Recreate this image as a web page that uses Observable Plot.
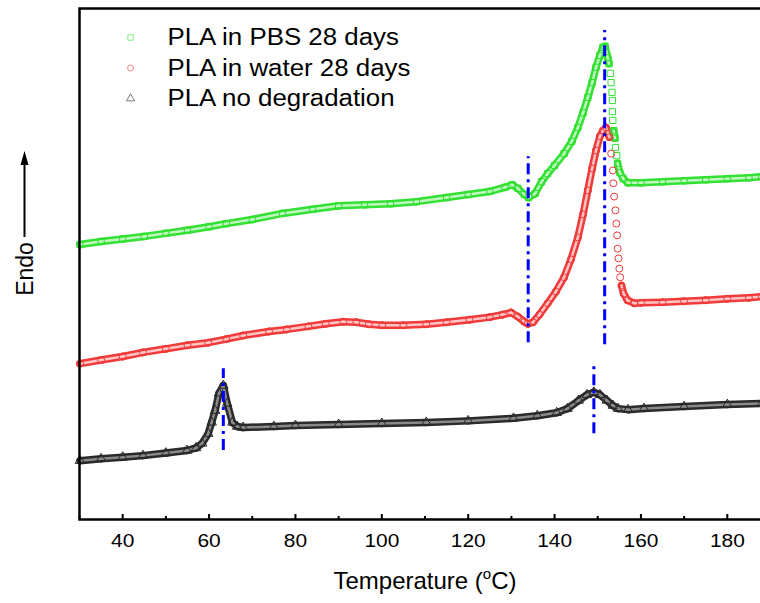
<!DOCTYPE html>
<html>
<head>
<meta charset="utf-8">
<script src="https://cdn.jsdelivr.net/npm/d3@7"></script>
<script src="https://cdn.jsdelivr.net/npm/@observablehq/plot@0.6"></script>
<style>
  html, body { margin: 0; padding: 0; background: #fff; overflow: hidden; }
  #chart { width: 760px; height: 603px; overflow: hidden; position: relative; }
  #chart svg { font-family: Arial, "Liberation Sans", sans-serif; max-width: none !important; }
</style>
</head>
<body>
<div id="chart"></div>
<script>
// DSC heating scans of PLA (heat flow in arbitrary units, endotherm up)
const seriesNames = ["PLA in PBS 28 days", "PLA in water 28 days", "PLA no degradation"];

const pbsT = [30.1, 35, 40, 45, 50, 55, 60, 64, 70, 77, 84, 90, 96, 102, 108, 115, 120, 125, 128.5, 130.2,
  131.5, 133, 134, 135.5, 137, 138.4, 140, 142.2, 144, 145.4, 146.6, 147.7, 148.7, 149.6, 150.5, 151.2, 151.7, 152.3, 152.6, 152.9,
  153.1, 153.3, 153.4, 153.4, 153.5, 153.7, 154.0, 154.1, 154.4, 154.6, 155.1, 155.9, 157.0, 160, 165, 170, 175, 180, 185, 188];
const pbsHF = [53.8, 54.4, 54.9, 55.4, 56.0, 56.6, 57.3, 57.9, 58.7, 59.9, 60.7, 61.4, 61.6, 61.8, 62.2, 63.0, 63.6, 64.2, 65.0, 65.5,
  64.8, 63.6, 63.0, 63.8, 66.1, 67.7, 69.3, 71.6, 74.0, 76.7, 79.6, 82.6, 85.5, 88.5, 90.8, 92.4, 92.6, 90.4, 89.2, 87.3,
  85.5, 83.6, 82.0, 79.8, 78.1, 76.1, 74.6, 72.8, 71.2, 69.7, 67.9, 66.7, 65.9, 65.9, 66.1, 66.3, 66.5, 66.7, 66.9, 67.1];

const waterT = [30.1, 35, 40, 44.7, 50, 55, 59.8, 64, 67.9, 73.9, 78, 83, 87, 91.1, 94.1, 97, 100.1, 105, 110.3, 115,
  120.3, 125, 128, 129.9, 131.5, 133, 133.8, 135, 136.5, 138.4, 140.3, 142.2, 143.8, 145.4, 146.6, 147.7, 148.7, 149.6, 150.5, 151.2,
  151.9, 152.7, 153.1, 153.5, 153.6, 153.8, 154.1, 154.3, 154.5, 154.6, 154.8, 155.0, 155.2, 155.5, 156.0, 156.9, 158.5, 160, 165, 170,
  175, 180, 185, 188];
const waterHF = [30.5, 31.2, 31.9, 32.7, 33.4, 34.1, 34.6, 35.3, 36.0, 36.8, 37.2, 37.8, 38.3, 38.7, 38.6, 38.2, 38.0, 38.0, 38.2, 38.6,
  39.1, 39.6, 40.1, 40.5, 39.7, 38.7, 38.3, 38.6, 40.1, 42.3, 44.6, 47.4, 50.9, 55.2, 59.7, 64.4, 68.7, 72.2, 75.0, 76.1,
  76.7, 74.8, 71.6, 68.3, 65.8, 63.2, 60.5, 57.9, 55.6, 53.0, 51.1, 49.1, 47.4, 45.8, 44.2, 42.9, 42.3, 42.4, 42.5, 42.7,
  42.9, 43.2, 43.4, 43.6];

const nativeT = [30.1, 35, 40, 44.7, 50, 54.9, 57, 58.4, 59.8, 60.6, 61.4, 62.3, 63.3, 64.2, 65.4, 66.5, 67.9, 75, 80, 90,
  100, 110.3, 120, 130.5, 136, 140.5, 143, 145.6, 147.5, 149.1, 150.5, 152.1, 153.5, 154.7, 157, 160.7, 170, 180, 188];
const nativeHF = [11.5, 11.9, 12.2, 12.5, 13.0, 13.5, 14.0, 14.9, 16.8, 19.0, 21.3, 24.7, 26.2, 22.7, 19.0, 18.2, 18.0, 18.2, 18.4, 18.6,
  18.8, 19.0, 19.3, 19.8, 20.3, 20.9, 21.7, 23.3, 24.4, 24.9, 24.4, 23.3, 22.3, 21.7, 21.5, 21.7, 22.1, 22.5, 22.7];

// Peak / transition markers (temperature and the span of the guide line)
const markerT = [133.9, 151.6, 63.3, 149.1];
const markerTop = [71.0, 95.7, 29.5, 30.5];
const markerBottom = [34.6, 34.2, 13.5, 16.8];

const xMajorTicks = [40, 60, 80, 100, 120, 140, 160, 180];
const xMinorTicks = [30, 50, 70, 90, 110, 130, 150, 170, 190];

// Styling per series
const seriesColors = ["#33e033", "#f03a3a", "#2a2a2a"];
const seriesInner = ["#bdf7bd", "#ffc4c4", "#8a8a8a"];
const seriesSymbols = ["square", "circle", "triangle"];

const series = [
  {name: seriesNames[0], T: pbsT, HF: pbsHF},
  {name: seriesNames[1], T: waterT, HF: waterHF},
  {name: seriesNames[2], T: nativeT, HF: nativeHF}
];

// Dense stretches are drawn as a continuous band; where the signal changes
// very fast the recorded points are spread out and show as single symbols.
const steep = 5;
function bandSegments(s) {
  const out = [];
  for (let i = 1; i < s.T.length; i++) {
    const dT = Math.abs(s.T[i] - s.T[i - 1]);
    const dv = Math.abs(s.HF[i] - s.HF[i - 1]);
    if (dv <= steep * dT) out.push({T1: s.T[i - 1], v1: s.HF[i - 1], T2: s.T[i], v2: s.HF[i]});
  }
  return out;
}
function points(s) {
  return s.T.map((t, i) => ({T: t, hf: s.HF[i]}));
}

const guides = markerT.map((t, i) => ({T: t, top: markerTop[i], bottom: markerBottom[i]}));

const order = [2, 0, 1];
const marks = [];
for (const i of order) {
  marks.push(Plot.link(bandSegments(series[i]), {x1: "T1", y1: "v1", x2: "T2", y2: "v2", stroke: seriesColors[i], strokeWidth: 7.5, strokeLinecap: "round"}));
}
for (const i of order) {
  marks.push(Plot.link(bandSegments(series[i]), {x1: "T1", y1: "v1", x2: "T2", y2: "v2", stroke: seriesInner[i], strokeWidth: 2.5, strokeLinecap: "round"}));
}
for (const i of order) {
  marks.push(Plot.dot(points(series[i]), {x: "T", y: "hf", symbol: seriesSymbols[i], r: 3.5, stroke: seriesColors[i], strokeWidth: 1, fill: "none"}));
}

// Legend rows in the upper-left corner of the frame
seriesNames.forEach((name, i) => {
  marks.push(Plot.dot([name], {frameAnchor: "top-left", dx: 51, dy: 29 + i * 30.5, symbol: seriesSymbols[i], r: 3, stroke: seriesColors[i], strokeOpacity: 0.6, strokeWidth: 1, fill: "none"}));
  marks.push(Plot.text([name], {frameAnchor: "top-left", dx: 88, dy: 29 + i * 30.5, text: d => d, textAnchor: "start", lineAnchor: "middle", fontSize: 23.5, fill: "#000"}));
});

const chart = Plot.plot({
  width: 772,
  height: 603,
  marginLeft: 79,
  marginRight: 2,
  marginTop: 8,
  marginBottom: 84,
  style: {maxWidth: "none"},
  x: {domain: [30, 190], axis: null},
  y: {domain: [0, 100], axis: null},
  marks: [
    ...marks,
    Plot.ruleX(guides, {x: "T", y1: "bottom", y2: "top", stroke: "#0000ff", strokeWidth: 3, strokeDasharray: "11 5 3 5"}),
    Plot.frame({stroke: "#000", strokeWidth: 2.5}),
    Plot.tickX(xMajorTicks, {x: d => d, insetTop: 506, strokeWidth: 2, stroke: "#000"}),
    Plot.tickX(xMinorTicks, {x: d => d, insetTop: 508, strokeWidth: 2, stroke: "#000"}),
    Plot.axisX({ticks: xMajorTicks, tickSize: 0, tickPadding: 14, fontSize: 19, label: null}),
    Plot.text(["Temperature (°C)"], {frameAnchor: "bottom", dy: 69, text: d => d, fontSize: 24, lineAnchor: "bottom", fill: "#000"}),
    Plot.text(["Endo"], {frameAnchor: "left", dx: -54, dy: 5, text: d => d, rotate: -90, textAnchor: "middle", fontSize: 23, fill: "#000"})
  ]
});

document.getElementById("chart").appendChild(chart);
chart.style.maxWidth = "none";

const svg = d3.select(chart);

// Superscript degree "o" in the axis title
svg.selectAll("text")
  .filter(function () { return this.textContent === "Temperature (°C)"; })
  .each(function () {
    const t = d3.select(this);
    t.text("Temperature (");
    t.append("tspan").attr("dy", -10).attr("font-size", 15).text("o");
    t.append("tspan").attr("dy", 10).text("C)");
  });

// Slightly wide lettering for the horizontal labels
const horizontal = new Set([...seriesNames, ...xMajorTicks.map(String)]);
svg.selectAll("text").each(function () {
  if (horizontal.has(this.textContent)) {
    const w = this.getComputedTextLength();
    this.setAttribute("textLength", (w * 1.1).toFixed(1));
    this.setAttribute("lengthAdjust", "spacingAndGlyphs");
  }
});

// Upward arrow next to the "Endo" label
svg.append("line").attr("x1", 24.5).attr("x2", 24.5).attr("y1", 237).attr("y2", 162)
  .attr("stroke", "#000").attr("stroke-width", 2);
svg.append("path").attr("d", "M24.5,151 L20.5,165 L28.5,165 Z").attr("fill", "#000");
</script>
</body>
</html>
